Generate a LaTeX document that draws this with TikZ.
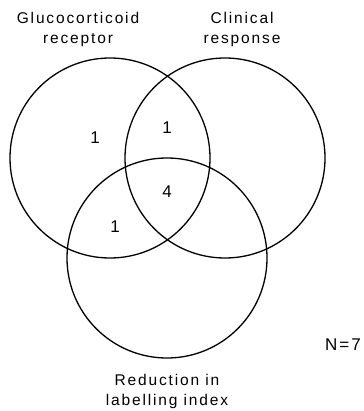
\documentclass[tikz,border=0pt]{standalone}
\usepackage{fontspec}
\setmainfont{Liberation Sans}[LetterSpace=12]
\usepackage{tikz}
\usetikzlibrary{positioning}

\begin{document}
\begin{tikzpicture}[x=1pt, y=-1pt,
				set/.style={draw=black, circle, line width=1.3pt, minimum size=200pt, inner sep=0pt},
				caption/.style={align=center, font=\fontsize{15.5}{20}\selectfont},
				count/.style={font=\fontsize{17}{18}\selectfont}
			]
			\useasboundingbox (0, 0) rectangle (363, 411);

			% Sets
			\node[set] (receptor) at (110, 158) {};
			\node[set] (response) at (225, 158) {};
			\node[set] (labelling) at (167, 258) {};

			% Set captions
			\node[caption] (receptortext) at (78, 29) {Glucocorticoid \\ receptor};
			\node[caption] (responsetext) at (242, 29) {Clinical \\ response};
			\node[caption] (labellingtext) at (167, 391) {Reduction in \\ labelling index};

			% Counts
			\node[count] (onlyreceptor) at (95, 138) {1};
			\node[count] (receptorresponse) at (167, 128) {1};
			\node[count] (allthree) at (167, 192) {4};
			\node[count] (receptorlabelling) at (115, 227) {1};

			\node[count] (total) at (343, 345) {N=7};
		\end{tikzpicture}
\end{document}
